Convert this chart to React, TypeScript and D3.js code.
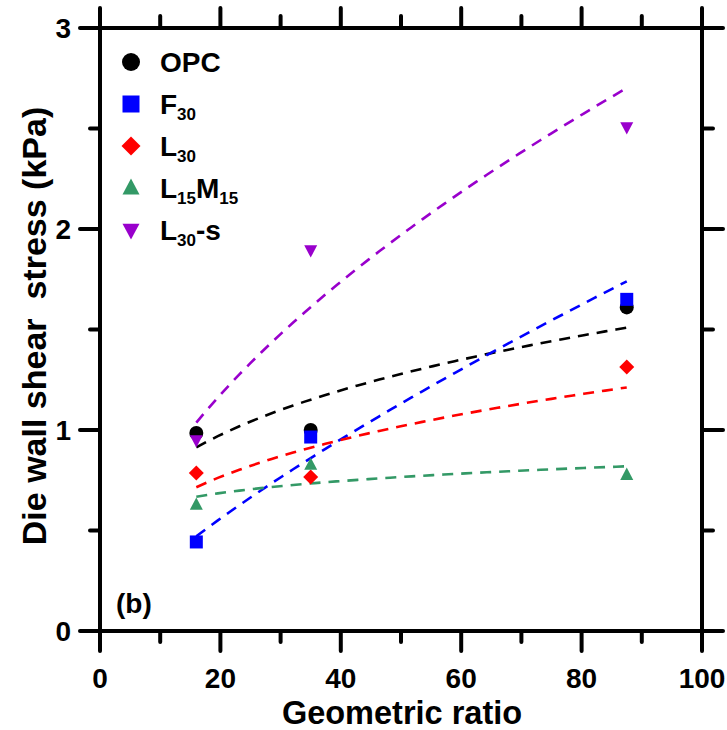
import React from 'react';
import * as d3 from 'd3';

// geometric ratio for each tested die
const ratios = [16, 35, 87.5];

// die wall shear stress (kPa) per mix
const opc = [0.985, 1.0, 1.61];
const f30 = [0.443, 0.965, 1.65];
const l30 = [0.786, 0.766, 1.313];
const l15m15 = [0.627, 0.826, 0.776];
const l30s = [0.95, 1.895, 2.507];

const xTicks = [0, 20, 40, 60, 80, 100];
const yTicks = [0, 1, 2, 3];

const series = [
  { name: 'OPC', sub: '', tail: '', values: opc, color: '#000000', shape: 'circle' },
  { name: 'F', sub: '30', tail: '', values: f30, color: '#0000ff', shape: 'square' },
  { name: 'L', sub: '30', tail: '', values: l30, color: '#ff0000', shape: 'diamond' },
  { name: 'L', sub: '15', tail: 'M', sub2: '15', values: l15m15, color: '#339966', shape: 'up' },
  { name: 'L', sub: '30', tail: '-s', values: l30s, color: '#9900cc', shape: 'down' },
];

const W = 727;
const H = 730;
const left = 100;
const right = 702;
const top = 28;
const bottom = 631;

const x = d3.scaleLinear().domain([0, 100]).range([left, right]);
const y = d3.scaleLinear().domain([0, 3]).range([bottom, top]);

// power-law fit y = a * x^b in log space
function powerFit(xs: number[], ys: number[]) {
  const lx = xs.map(Math.log);
  const ly = ys.map(Math.log);
  const mx = d3.mean(lx)!;
  const my = d3.mean(ly)!;
  let sxy = 0;
  let sxx = 0;
  lx.forEach((v, i) => {
    sxy += (v - mx) * (ly[i] - my);
    sxx += (v - mx) * (v - mx);
  });
  const b = sxy / sxx;
  const la = my - b * mx;
  return (v: number) => Math.exp(la + b * Math.log(v));
}

const marker = (shape: string, cx: number, cy: number, color: string, s: number, key?: any) => {
  const h = s / 2;
  if (shape === 'circle') return <circle key={key} cx={cx} cy={cy} r={h + 0.5} fill={color} />;
  if (shape === 'square') return <rect key={key} x={cx - h} y={cy - h} width={s} height={s} fill={color} />;
  if (shape === 'diamond')
    return <path key={key} d={`M${cx},${cy - h - 1}L${cx + h + 1},${cy}L${cx},${cy + h + 1}L${cx - h - 1},${cy}Z`} fill={color} />;
  if (shape === 'up')
    return <path key={key} d={`M${cx},${cy - h - 1}L${cx + h},${cy + h * 0.75}L${cx - h},${cy + h * 0.75}Z`} fill={color} />;
  return <path key={key} d={`M${cx},${cy + h + 1}L${cx + h},${cy - h * 0.75}L${cx - h},${cy - h * 0.75}Z`} fill={color} />;
};

const App = () => {
  const font = 'Liberation Sans, Arial, sans-serif';
  const minorX = d3.range(10, 100, 20);
  const minorY = [0.5, 1.5, 2.5];

  return (
    <svg width={W} height={H} style={{ position: 'absolute', left: 0, top: 0, background: '#fff' }} fontFamily={font} fontWeight="bold">
      {/* fits */}
      {series.map((s) => {
        const f = powerFit(ratios, s.values);
        const xs = d3.range(0, 41).map((i) => 16 + ((87.5 - 16) * i) / 40);
        const path = d3
          .line<number>()
          .x((d) => x(d))
          .y((d) => y(f(d)))(xs);
        return (
          <path key={'f' + s.color} d={path!} fill="none" stroke={s.color} strokeWidth={2.6} strokeDasharray="11,8" />
        );
      })}
      {/* points */}
      {series.map((s) => s.values.map((v, i) => marker(s.shape, x(ratios[i]), y(v), s.color, 13, s.color + i)))}

      {/* frame */}
      <rect x={left} y={top} width={right - left} height={bottom - top} fill="none" stroke="#000" strokeWidth={4} />
      {xTicks.map((t) => (
        <g key={'xt' + t}>
          <line x1={x(t)} x2={x(t)} y1={bottom} y2={bottom + 20} stroke="#000" strokeWidth={4} strokeLinecap="round" />
          <line x1={x(t)} x2={x(t)} y1={top} y2={top - 20} stroke="#000" strokeWidth={4} strokeLinecap="round" />
          <text x={x(t)} y={688} textAnchor="middle" fontSize={28}>
            {t}
          </text>
        </g>
      ))}
      {minorX.map((t) => (
        <g key={'xm' + t}>
          <line x1={x(t)} x2={x(t)} y1={bottom} y2={bottom + 11} stroke="#000" strokeWidth={4} strokeLinecap="round" />
          <line x1={x(t)} x2={x(t)} y1={top} y2={top - 12} stroke="#000" strokeWidth={4} strokeLinecap="round" />
        </g>
      ))}
      {yTicks.map((t) => (
        <g key={'yt' + t}>
          <line x1={left} x2={left - 20} y1={y(t)} y2={y(t)} stroke="#000" strokeWidth={4} strokeLinecap="round" />
          <line x1={right} x2={right + 21} y1={y(t)} y2={y(t)} stroke="#000" strokeWidth={4} strokeLinecap="round" />
          <text x={71} y={y(t) + 10} textAnchor="end" fontSize={28}>
            {t}
          </text>
        </g>
      ))}
      {minorY.map((t) => (
        <g key={'ym' + t}>
          <line x1={left} x2={left - 10} y1={y(t)} y2={y(t)} stroke="#000" strokeWidth={4} strokeLinecap="round" />
          <line x1={right} x2={right + 11} y1={y(t)} y2={y(t)} stroke="#000" strokeWidth={4} strokeLinecap="round" />
        </g>
      ))}

      {/* axis titles */}
      <text x={402} y={724} textAnchor="middle" fontSize={32.5}>
        Geometric ratio
      </text>
      <text
        transform={`translate(46,326) rotate(-90)`}
        textAnchor="middle"
        fontSize={34}
        style={{ whiteSpace: 'pre' }}
      >
        {'Die wall shear  stress (kPa)'}
      </text>

      {/* panel label */}
      <text x={116} y={613} fontSize={28}>
        (b)
      </text>

      {/* legend */}
      {series.map((s, i) => {
        const ly = 62 + i * 42;
        return (
          <g key={'lg' + i}>
            {marker(s.shape, 131, ly, s.color, 17)}
            <text x={160} y={ly + 10} fontSize={28}>
              {s.name}
              {s.sub && (
                <tspan fontSize={17} dy={6}>
                  {s.sub}
                </tspan>
              )}
              {s.tail && <tspan dy={s.sub ? -6 : 0}>{s.tail}</tspan>}
              {s.sub2 && (
                <tspan fontSize={17} dy={6}>
                  {s.sub2}
                </tspan>
              )}
            </text>
          </g>
        );
      })}
    </svg>
  );
};

export default App;
